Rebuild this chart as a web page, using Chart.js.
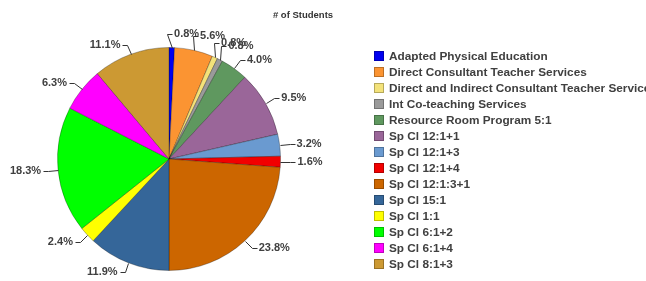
<!DOCTYPE html>
<html>
<head>
<meta charset="utf-8">
<script src="https://cdn.jsdelivr.net/npm/chart.js@4/dist/chart.umd.min.js"></script>
<style>
  html, body { margin: 0; padding: 0; background: #ffffff; }
  #wrap { width: 646px; height: 281px; position: relative; }
</style>
</head>
<body>
<div id="wrap"><canvas id="c" width="646" height="281"></canvas></div>
<script>
const chartTitle = "# of Students";
const categories = [
  "Adapted Physical Education",
  "Direct Consultant Teacher Services",
  "Direct and Indirect Consultant Teacher Services",
  "Int Co-teaching Services",
  "Resource Room Program 5:1",
  "Sp Cl 12:1+1",
  "Sp Cl 12:1+3",
  "Sp Cl 12:1+4",
  "Sp Cl 12:1:3+1",
  "Sp Cl 15:1",
  "Sp Cl 1:1",
  "Sp Cl 6:1+2",
  "Sp Cl 6:1+4",
  "Sp Cl 8:1+3"
];
const students = [1, 7, 1, 1, 5, 12, 4, 2, 30, 15, 3, 23, 8, 14];
const sliceColors = [
  "#0000f0", "#fb9432", "#f3e27a", "#9a9a9a", "#5f985f", "#9a6699", "#6a9ad0",
  "#f20000", "#cc6600", "#356699", "#ffff00", "#00ff00", "#ff00ff", "#cc9933"
];

const FONT = "'Liberation Sans', Arial, sans-serif";
const TEXT_COLOR = "#404040";

const labelNudge = { 0: [-5, -4], 1: [-3, -5], 2: [-5, -5], 3: [-3, -5] };

const overlayPlugin = {
  id: 'overlay',
  afterDraw(chart) {
    const ctx = chart.ctx;
    const meta = chart.getDatasetMeta(0);
    const data = chart.data.datasets[0].data;
    const total = data.reduce((a, b) => a + b, 0);
    ctx.save();
    // title
    ctx.font = "bold 9.5px " + FONT;
    ctx.fillStyle = "#333333";
    ctx.textAlign = "center";
    ctx.textBaseline = "middle";
    ctx.fillText(chartTitle, 303, 15);

    // slice labels
    ctx.font = "bold 11px " + FONT;
    ctx.strokeStyle = "#333333";
    ctx.lineWidth = 1;
    meta.data.forEach((arc, i) => {
      const p = arc.getProps(['x', 'y', 'startAngle', 'endAngle', 'outerRadius'], true);
      const mid = (p.startAngle + p.endAngle) / 2;
      const ux = Math.cos(mid), uy = Math.sin(mid);
      const ex = p.x + ux * p.outerRadius, ey = p.y + uy * p.outerRadius;
      const n = labelNudge[i] || [0, 0];
      const bx = p.x + ux * (p.outerRadius + 10) + n[0];
      const by = p.y + uy * (p.outerRadius + 10) + n[1];
      const dir = ux >= 0 ? 1 : -1;
      const hx = bx + dir * 5;
      ctx.beginPath();
      ctx.moveTo(Math.round(ex) + 0.5, Math.round(ey) + 0.5);
      ctx.lineTo(Math.round(bx) + 0.5, Math.round(by) + 0.5);
      ctx.lineTo(Math.round(hx) + 0.5, Math.round(by) + 0.5);
      ctx.stroke();
      const txt = (data[i] / total * 100).toFixed(1) + "%";
      ctx.fillStyle = TEXT_COLOR;
      ctx.textAlign = dir > 0 ? "left" : "right";
      ctx.textBaseline = "middle";
      ctx.fillText(txt, hx + dir * 2, by);
    });

    // legend
    const colors = chart.data.datasets[0].backgroundColor;
    ctx.font = "bold 11.8px " + FONT;
    ctx.textAlign = "left";
    ctx.textBaseline = "middle";
    chart.data.labels.forEach((lab, i) => {
      const cy = 56 + i * 16;
      ctx.fillStyle = colors[i];
      ctx.fillRect(374, cy - 5, 10, 10);
      ctx.strokeStyle = "rgba(0,0,0,0.25)";
      ctx.strokeRect(374.5, cy - 4.5, 9, 9);
      ctx.fillStyle = TEXT_COLOR;
      ctx.fillText(lab, 389, cy + 0.5);
    });
    ctx.restore();
  }
};

new Chart(document.getElementById('c'), {
  type: 'pie',
  data: {
    labels: categories,
    datasets: [{
      data: students,
      backgroundColor: sliceColors,
      borderColor: "rgba(0,0,0,0.28)",
      borderWidth: 1
    }]
  },
  options: {
    responsive: false,
    animation: false,
    events: [],
    layout: { padding: { top: 47, bottom: 10, left: 57, right: 365 } },
    plugins: {
      legend: { display: false },
      tooltip: { enabled: false },
      title: { display: false }
    }
  },
  plugins: [overlayPlugin]
});
</script>
</body>
</html>
